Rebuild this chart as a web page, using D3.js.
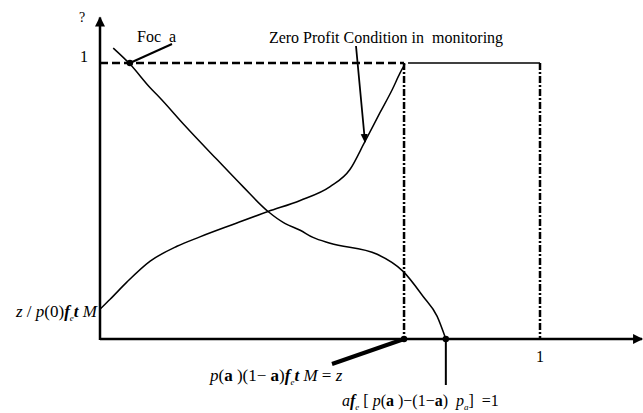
<!DOCTYPE html>
<html>
<head>
<meta charset="utf-8">
<script src="https://cdn.jsdelivr.net/npm/d3@7"></script>
<style>
  body { margin: 0; background: #fff; }
  svg { display: block; }
  text { font-family: "Liberation Serif", "DejaVu Serif", serif; fill: #000; }
</style>
</head>
<body>
<div id="chart"></div>
<script>
// Curva decrescente (Foca)
const focaX = [0.030, 0.068, 0.114, 0.136, 0.189, 0.266, 0.325, 0.382, 0.420, 0.455, 0.484, 0.523, 0.630, 0.689, 0.734, 0.766, 0.786];
const focaY = [1.054, 0.996, 0.910, 0.874, 0.780, 0.650, 0.552, 0.462, 0.419, 0.394, 0.368, 0.347, 0.307, 0.245, 0.155, 0.083, 0.000];

// Condição de lucro zero no monitoramento
const zpcX = [0.000, 0.023, 0.061, 0.114, 0.175, 0.227, 0.302, 0.382, 0.455, 0.523, 0.568, 0.602, 0.636, 0.664, 0.682, 0.693];
const zpcY = [0.108, 0.144, 0.206, 0.282, 0.336, 0.370, 0.415, 0.462, 0.502, 0.552, 0.614, 0.715, 0.819, 0.903, 0.964, 0.996];

// Pontos de referência no eixo
const alphaStar = 0.691;
const alphaF = 0.786;
const xTicks = [1];
const yTicks = [1];

const width = 643, height = 413;
const svg = d3.select("#chart").append("svg")
    .attr("width", width)
    .attr("height", height);

const x = d3.scaleLinear().domain([0, 1]).range([100, 540]);
const y = d3.scaleLinear().domain([0, 1]).range([339, 63]);

// Setas
const defs = svg.append("defs");
defs.append("marker")
    .attr("id", "head")
    .attr("viewBox", "0 0 10 10")
    .attr("refX", 9).attr("refY", 5)
    .attr("markerWidth", 4.5).attr("markerHeight", 4)
    .attr("markerUnits", "strokeWidth")
    .attr("orient", "auto")
    .append("path").attr("d", "M0,0 L10,5 L0,10 Z").attr("fill", "#000");
defs.append("marker")
    .attr("id", "headSmall")
    .attr("viewBox", "0 0 10 10")
    .attr("refX", 9).attr("refY", 5)
    .attr("markerWidth", 5).attr("markerHeight", 5)
    .attr("markerUnits", "strokeWidth")
    .attr("orient", "auto")
    .append("path").attr("d", "M0,1 L10,5 L0,9 Z").attr("fill", "#000");

// Eixos
svg.append("line")
    .attr("x1", x(0)).attr("y1", y(0))
    .attr("x2", x(1.232)).attr("y2", y(0))
    .attr("stroke", "#000").attr("stroke-width", 2.5)
    .attr("marker-end", "url(#head)");
svg.append("line")
    .attr("x1", x(0)).attr("y1", y(0) + 1)
    .attr("x2", x(0)).attr("y2", y(1.165))
    .attr("stroke", "#000").attr("stroke-width", 2.5)
    .attr("marker-end", "url(#head)");

// Linhas de referência
svg.append("line")
    .attr("x1", x(0)).attr("y1", y(1))
    .attr("x2", x(alphaStar)).attr("y2", y(1))
    .attr("stroke", "#000").attr("stroke-width", 2.5)
    .attr("stroke-dasharray", "8,4");
svg.append("line")
    .attr("x1", x(alphaStar) + 4).attr("y1", y(1))
    .attr("x2", x(1)).attr("y2", y(1))
    .attr("stroke", "#000").attr("stroke-width", 1.5);
svg.append("line")
    .attr("x1", x(alphaStar)).attr("y1", y(1))
    .attr("x2", x(alphaStar)).attr("y2", y(0))
    .attr("stroke", "#000").attr("stroke-width", 2.5)
    .attr("stroke-dasharray", "7,2,2,2");
svg.append("line")
    .attr("x1", x(1)).attr("y1", y(1))
    .attr("x2", x(1)).attr("y2", y(0))
    .attr("stroke", "#000").attr("stroke-width", 2.5)
    .attr("stroke-dasharray", "7,2,2,2");

// Curvas
const line = d3.line()
    .x(d => x(d[0]))
    .y(d => y(d[1]))
    .curve(d3.curveMonotoneX);

svg.append("path")
    .datum(d3.zip(focaX, focaY))
    .attr("d", line)
    .attr("fill", "none").attr("stroke", "#000").attr("stroke-width", 1.5);
svg.append("path")
    .datum(d3.zip(zpcX, zpcY))
    .attr("d", line)
    .attr("fill", "none").attr("stroke", "#000").attr("stroke-width", 1.5);

// Pontos
svg.selectAll("circle.pt")
    .data([[focaX[1], 1], [alphaStar, 0], [alphaF, 0]])
    .join("circle")
    .attr("class", "pt")
    .attr("cx", d => x(d[0])).attr("cy", d => y(d[1]))
    .attr("r", 3.2).attr("fill", "#000");

// Rótulos dos eixos
svg.append("text").attr("x", 82).attr("y", 22).attr("font-size", 14).attr("text-anchor", "middle").text("?");
svg.selectAll("text.yt").data(yTicks).join("text")
    .attr("class", "yt")
    .attr("x", 84).attr("y", d => y(d) - 1)
    .attr("font-size", 16).attr("text-anchor", "middle").text(d => d);
svg.selectAll("text.xt").data(xTicks).join("text")
    .attr("class", "xt")
    .attr("x", d => x(d)).attr("y", 362)
    .attr("font-size", 16).attr("text-anchor", "middle").text(d => d);

// Anotação Foca
svg.append("line")
    .attr("x1", 172).attr("y1", 44)
    .attr("x2", x(focaX[1])).attr("y2", y(1))
    .attr("stroke", "#000").attr("stroke-width", 2);
svg.append("text").attr("x", 137).attr("y", 42).attr("font-size", 16)
    .attr("xml:space", "preserve").text("Foc  a");

// Anotação lucro zero
svg.append("text").attr("x", 386).attr("y", 43).attr("font-size", 16)
    .attr("text-anchor", "middle")
    .attr("xml:space", "preserve")
    .text("Zero Profit Condition in  monitoring");
svg.append("line")
    .attr("x1", 356).attr("y1", 46)
    .attr("x2", 365).attr("y2", 142)
    .attr("stroke", "#000").attr("stroke-width", 1.8)
    .attr("marker-end", "url(#headSmall)");

// Rótulo no eixo vertical
const lt = svg.append("text").attr("x", 97).attr("y", 317).attr("font-size", 17)
    .attr("text-anchor", "end").attr("xml:space", "preserve");
lt.append("tspan").attr("font-style", "italic").text("z");
lt.append("tspan").text(" / ");
lt.append("tspan").attr("font-style", "italic").text("p");
lt.append("tspan").text("(0)");
lt.append("tspan").attr("font-style", "italic").attr("font-weight", "bold").text("f");
lt.append("tspan").attr("font-style", "italic").attr("font-size", 9).attr("dy", 4).text("e");
lt.append("tspan").attr("font-style", "italic").attr("font-weight", "bold").attr("dy", -4).text("t");
lt.append("tspan").attr("font-style", "italic").text(" M");

// Linha grossa para alpha*
svg.append("line")
    .attr("x1", 332).attr("y1", 364)
    .attr("x2", x(alphaStar)).attr("y2", y(0))
    .attr("stroke", "#000").attr("stroke-width", 4);
const l1 = svg.append("text").attr("x", 210).attr("y", 381).attr("font-size", 17)
    .attr("xml:space", "preserve");
l1.append("tspan").attr("font-style", "italic").text("p");
l1.append("tspan").text("(");
l1.append("tspan").attr("font-weight", "bold").text("a");
l1.append("tspan").text(" )(1− ");
l1.append("tspan").attr("font-weight", "bold").text("a");
l1.append("tspan").text(")");
l1.append("tspan").attr("font-style", "italic").attr("font-weight", "bold").text("f");
l1.append("tspan").attr("font-style", "italic").attr("font-size", 9).attr("dy", 4).text("e");
l1.append("tspan").attr("font-style", "italic").attr("font-weight", "bold").attr("dy", -4).text("t");
l1.append("tspan").attr("font-style", "italic").text(" M");
l1.append("tspan").text(" = ");
l1.append("tspan").attr("font-style", "italic").text("z");

// Linha para alpha F
svg.append("line")
    .attr("x1", x(alphaF)).attr("y1", y(0))
    .attr("x2", x(alphaF)).attr("y2", 385)
    .attr("stroke", "#000").attr("stroke-width", 2);
const l2 = svg.append("text").attr("x", 342).attr("y", 406).attr("font-size", 16)
    .attr("xml:space", "preserve");
l2.append("tspan").attr("font-style", "italic").text("a");
l2.append("tspan").attr("font-style", "italic").attr("font-weight", "bold").text("f");
l2.append("tspan").attr("font-style", "italic").attr("font-size", 9).attr("dy", 4).text("e");
l2.append("tspan").attr("dy", -4).text(" [ ");
l2.append("tspan").attr("font-style", "italic").text("p");
l2.append("tspan").text("(");
l2.append("tspan").attr("font-weight", "bold").text("a");
l2.append("tspan").text(" )−(1−");
l2.append("tspan").attr("font-weight", "bold").text("a");
l2.append("tspan").text(")  ");
l2.append("tspan").attr("font-style", "italic").text("p");
l2.append("tspan").attr("font-style", "italic").attr("font-size", 9).attr("dy", 4).text("a");
l2.append("tspan").attr("dy", -4).text("]  =1");
</script>
</body>
</html>
